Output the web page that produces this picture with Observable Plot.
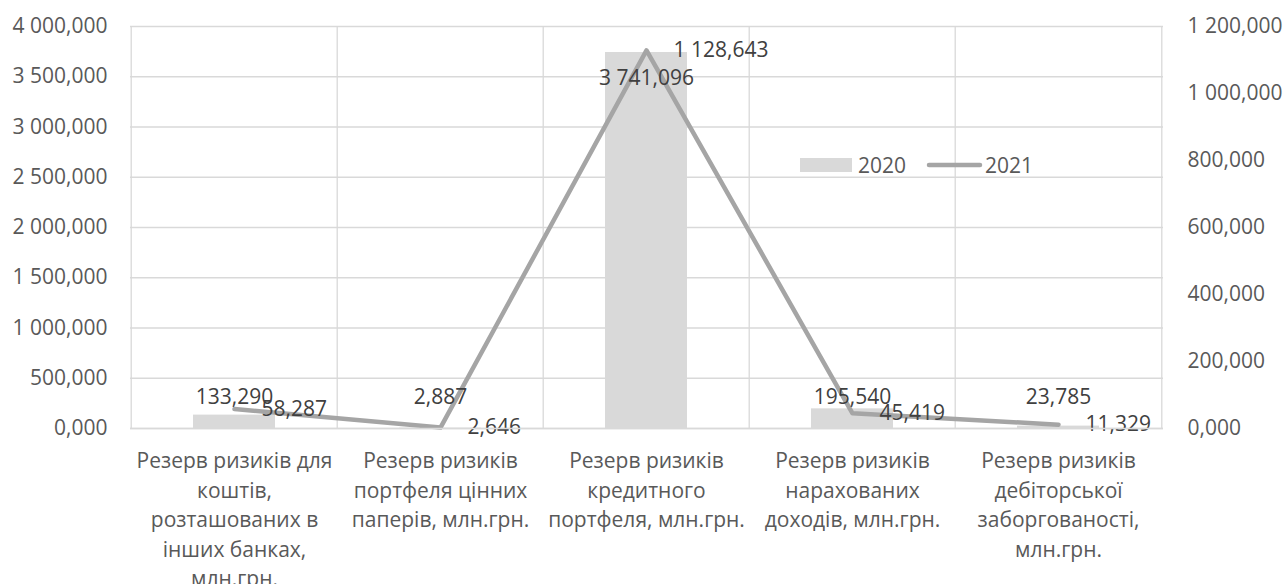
<!DOCTYPE html>
<html>
<head>
<meta charset="utf-8">
<script src="https://cdn.jsdelivr.net/npm/d3@7"></script>
<script src="https://cdn.jsdelivr.net/npm/@observablehq/plot@0.6"></script>
<style>
  html, body { margin: 0; padding: 0; background: #fff; }
  #wrap { position: relative; width: 1284px; height: 584px; overflow: hidden; font-family: "Open Sans", sans-serif; }
  #legend { position: absolute; left: 800px; top: 151px; display: flex; align-items: center; font-size: 21px; color: #595959; white-space: nowrap; }
  #legend .item { display: flex; align-items: center; }
</style>
</head>
<body>
<div id="wrap"></div>
<script>
// ---- data ----
const categories = [
  "Резерв ризиків для\nкоштів,\nрозташованих в\nінших банках,\nмлн.грн.",
  "Резерв ризиків\nпортфеля цінних\nпаперів, млн.грн.",
  "Резерв ризиків\nкредитного\nпортфеля, млн.грн.",
  "Резерв ризиків\nнарахованих\nдоходів, млн.грн.",
  "Резерв ризиків\nдебіторської\nзаборгованості,\nмлн.грн."
];
const series = ["2020", "2021"];
const values2020 = [133.290, 2.887, 3741.096, 195.540, 23.785];
const values2021 = [58.287, 2.646, 1128.643, 45.419, 11.329];
const leftTicks = [0, 500, 1000, 1500, 2000, 2500, 3000, 3500, 4000];
const rightTicks = [0, 200, 400, 600, 800, 1000, 1200];

// ---- build ----
const leftMax = 4000, rightMax = 1200;
const ratio = leftMax / rightMax;
const locale = d3.formatLocale({decimal: ",", thousands: "\u00a0", grouping: [3], currency: ["", ""]});
const fmt = locale.format(",.3f");
const table = categories.map((c, i) => ({cat: c, v2020: values2020[i], v2021: values2021[i]}));

const W = 1284, H = 584, mL = 130, mR = 121, mT = 26, mB = 156;
const step = (W - mL - mR) / categories.length;
const gridColor = "#d9d9d9";
const labelColor = "#404040";
const axisColor = "#595959";
const fs = 21;

const chart = Plot.plot({
  width: W, height: H,
  marginTop: mT, marginBottom: mB, marginLeft: mL, marginRight: mR,
  style: {fontFamily: "Open Sans", fontSize: fs + "px", color: axisColor, background: "white", overflow: "visible"},
  x: {domain: categories, paddingInner: 0.6, paddingOuter: 0.3, axis: null},
  y: {domain: [0, leftMax], axis: null},
  marks: [
    Plot.gridY(leftTicks, {stroke: gridColor, strokeOpacity: 1, strokeWidth: 1.3}),
    Plot.ruleX(categories, {x: d => d, dx: -step / 2, stroke: gridColor, strokeWidth: 1.3}),
    Plot.ruleX(categories.slice(-1), {x: d => d, dx: step / 2, stroke: gridColor, strokeWidth: 1.3}),
    Plot.barY(table, {x: "cat", y: "v2020", fill: "#d9d9d9"}),
    Plot.line(table, {x: "cat", y: d => d.v2021 * ratio, stroke: "#a5a5a5", strokeWidth: 4.5, strokeLinejoin: "round", strokeLinecap: "round"}),
    // bar labels (inside end, clamped above the base)
    Plot.text(table.filter(d => d.v2020 >= 500), {x: "cat", y: "v2020", dy: 26, text: d => fmt(d.v2020), fill: labelColor, fontSize: fs}),
    Plot.text(table.filter(d => d.v2020 < 500), {x: "cat", frameAnchor: "bottom", dy: -25, text: d => fmt(d.v2020), fill: labelColor, fontSize: fs}),
    // line labels (right)
    Plot.text(table, {x: "cat", y: d => d.v2021 * ratio, dx: 27, textAnchor: "start", text: d => fmt(d.v2021), fill: labelColor, fontSize: fs}),
    // axes
    Plot.axisY(leftTicks, {anchor: "left", label: null, tickSize: 0, tickPadding: 23, tickFormat: fmt, fontSize: fs, fill: axisColor}),
    Plot.axisY(rightTicks.map(t => t * ratio), {anchor: "right", label: null, tickSize: 0, tickPadding: 24, tickFormat: d => fmt(d / ratio), fontSize: fs, fill: axisColor}),
    Plot.axisX({label: null, tickSize: 0, tickPadding: 19, lineHeight: 1.4, fontSize: fs, fill: axisColor, tickFormat: d => d, textOverflow: null}),
    Plot.ruleY([0], {stroke: gridColor, strokeWidth: 1.3})
  ]
});

const wrap = document.getElementById("wrap");
wrap.appendChild(chart);

// legend (inside plot area, as in the reference)
const legend = document.createElement("div");
legend.id = "legend";
legend.innerHTML =
  `<div class="item"><svg width="52" height="14"><rect width="52" height="14" fill="#d9d9d9"/></svg><span style="margin-left:6px">${series[0]}</span></div>` +
  `<div class="item" style="margin-left:20px"><svg width="57" height="10"><line x1="3" y1="5" x2="54" y2="5" stroke="#a5a5a5" stroke-width="4.5" stroke-linecap="round"/></svg><span style="margin-left:2px">${series[1]}</span></div>`;
wrap.appendChild(legend);
</script>
</body>
</html>
